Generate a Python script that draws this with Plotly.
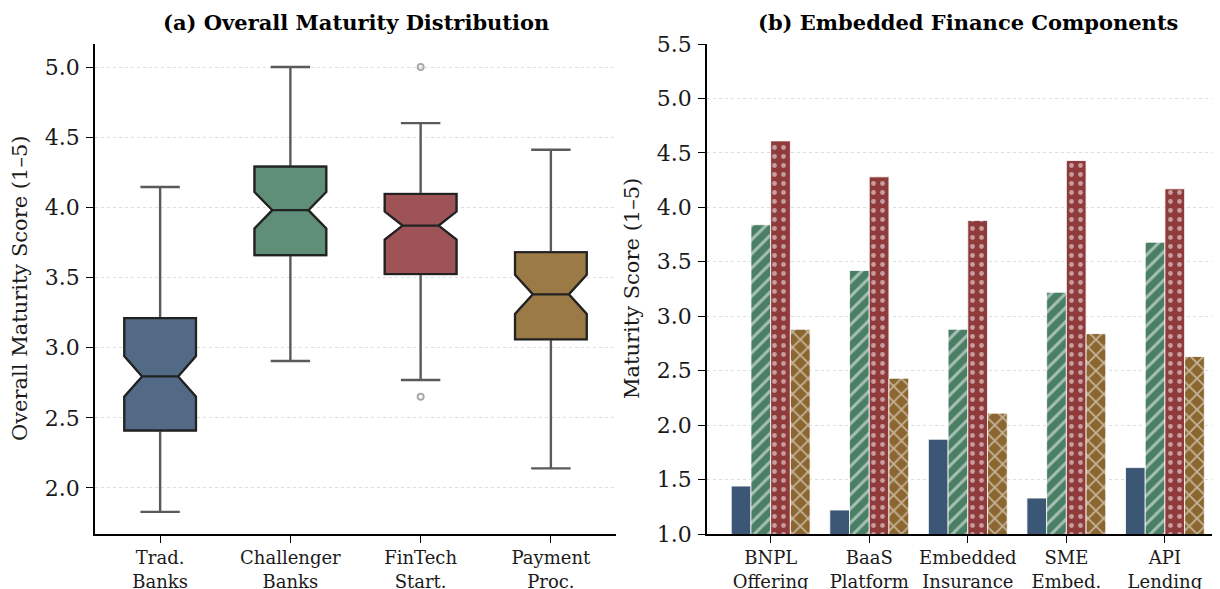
import plotly.graph_objects as go

# ---------------- data ----------------
box_categories = ["Trad.<br>Banks", "Challenger<br>Banks", "FinTech<br>Start.", "Payment<br>Proc."]
box_q1 = [2.41, 3.66, 3.525, 3.06]
box_median = [2.795, 3.98, 3.87, 3.38]
box_q3 = [3.21, 4.29, 4.095, 3.68]
box_lower = [1.83, 2.905, 2.77, 2.14]
box_upper = [4.145, 5.0, 4.60, 4.41]
box_notchspan = [0.145, 0.13, 0.10, 0.14]
outlier_category = ["FinTech<br>Start.", "FinTech<br>Start."]
outlier_values = [5.0, 2.65]

bar_categories = ["BNPL<br>Offering", "BaaS<br>Platform", "Embedded<br>Insurance", "SME<br>Embed.", "API<br>Lending"]
bar_series_names = ["Trad. Banks", "Challenger Banks", "FinTech Start.", "Payment Proc."]
bar_trad = [1.44, 1.22, 1.87, 1.33, 1.61]
bar_challenger = [3.84, 3.42, 2.88, 3.22, 3.68]
bar_fintech = [4.61, 4.28, 3.88, 4.43, 4.17]
bar_payment = [2.88, 2.43, 2.11, 2.84, 2.63]

left_ticks = [2.0, 2.5, 3.0, 3.5, 4.0, 4.5, 5.0]
right_ticks = [1.0, 1.5, 2.0, 2.5, 3.0, 3.5, 4.0, 4.5, 5.0, 5.5]

# ---------------- styles ----------------
box_fill = ["#536a87", "#5f8f78", "#9e5456", "#9b7a46"]
bar_fill = ["#3c5776", "#4a7f66", "#8f3b3c", "#8b6630"]
bar_shapes = ["", "/", ".", "x"]
bar_pattern_size = [10, 10, 9, 11]
bar_solidity = [0.2, 0.3, 0.22, 0.3]
SERIF = "DejaVu Serif"

fig = go.Figure()

# Layer 1: whiskers (gray)
for i, cat in enumerate(box_categories):
    fig.add_trace(go.Box(
        x=[cat], q1=[box_q1[i]], median=[box_median[i]], q3=[box_q3[i]],
        lowerfence=[box_lower[i]], upperfence=[box_upper[i]],
        notched=True, notchspan=[box_notchspan[i]], notchwidth=0.25,
        width=0.55, whiskerwidth=0.55, boxpoints=False,
        fillcolor=box_fill[i], line=dict(color="#5a5a5a", width=2.4),
        xaxis="x", yaxis="y", showlegend=False, hoverinfo="skip"))
# Layer 2: box body with dark outline
for i, cat in enumerate(box_categories):
    fig.add_trace(go.Box(
        x=[cat], q1=[box_q1[i]], median=[box_median[i]], q3=[box_q3[i]],
        lowerfence=[box_q1[i]], upperfence=[box_q3[i]],
        notched=True, notchspan=[box_notchspan[i]], notchwidth=0.25,
        width=0.55, whiskerwidth=0, boxpoints=False,
        fillcolor=box_fill[i], line=dict(color="#222222", width=2.2),
        xaxis="x", yaxis="y", showlegend=False))

fig.add_trace(go.Scatter(
    x=outlier_category, y=outlier_values, mode="markers",
    marker=dict(symbol="circle-open", size=6, color="#aaaaaa", line=dict(width=2)),
    xaxis="x", yaxis="y", showlegend=False))

bar_values = [bar_trad, bar_challenger, bar_fintech, bar_payment]
for j, vals in enumerate(bar_values):
    fig.add_trace(go.Bar(
        x=bar_categories, y=vals, name=bar_series_names[j],
        marker=dict(color=bar_fill[j], line=dict(color="white", width=0.8),
                    pattern=dict(shape=bar_shapes[j], fgcolor="white", bgcolor=bar_fill[j],
                                 size=bar_pattern_size[j], solidity=bar_solidity[j],
                                 fillmode="overlay")),
        xaxis="x2", yaxis="y2", showlegend=False))

axis_common = dict(
    showline=True, linecolor="black", linewidth=1.5, mirror=False,
    ticks="outside", ticklen=7, tickwidth=1.3, tickcolor="black",
    zeroline=False,
)

W, H = 1220, 589
ML, MT, MB = 87, 36, 63
PW = W - ML

fig.update_layout(
    width=W, height=H,
    margin=dict(l=ML, r=0, t=MT, b=MB),
    paper_bgcolor="white", plot_bgcolor="white",
    barmode="group", bargap=0.2, bargroupgap=0,
    font=dict(family=SERIF, color="#1a1a1a"),
    xaxis=dict(domain=[0, 521 / PW], type="category", range=[-0.5, 3.5],
               tickfont=dict(size=18, family=SERIF), ticklabelstandoff=0,
               showgrid=False, **axis_common),
    yaxis=dict(range=[1.672, 5.164], tickvals=left_ticks, ticktext=[f"{v:.1f}" for v in left_ticks],
               tickfont=dict(size=22, family=SERIF), ticklabelstandoff=2,
               showgrid=True, gridcolor="#dddddd", griddash="dot", gridwidth=1, **axis_common),
    xaxis2=dict(domain=[612 / PW, 1.0], type="category", range=[-0.646, 4.64], anchor="y2",
                tickfont=dict(size=18, family=SERIF), ticklabelstandoff=0,
                showgrid=False, **axis_common),
    yaxis2=dict(range=[1.0, 5.5], tickvals=right_ticks, ticktext=[f"{v:.1f}" for v in right_ticks],
                anchor="x2", tickfont=dict(size=22, family=SERIF), ticklabelstandoff=2,
                showgrid=True, gridcolor="#dddddd", griddash="dot", gridwidth=1, **axis_common),
    annotations=[
        dict(text="<b>(a) Overall Maturity Distribution</b>", xref="x domain", yref="paper",
             x=0.5, y=1, yshift=22, xanchor="center", yanchor="middle", showarrow=False,
             font=dict(size=21, family=SERIF, color="black")),
        dict(text="<b>(b) Embedded Finance Components</b>", xref="x2", yref="paper",
             x=2, y=1, yshift=22, xanchor="center", yanchor="middle", showarrow=False,
             font=dict(size=21, family=SERIF, color="black")),
        dict(text="Overall Maturity Score (1–5)", xref="paper", yref="paper",
             x=-ML / PW, xshift=12, y=0.5, xanchor="center", yanchor="middle", textangle=-90,
             showarrow=False, font=dict(size=21, family=SERIF, color="#1a1a1a")),
        dict(text="Maturity Score (1–5)", xref="paper", yref="paper",
             x=(624 - ML) / PW, y=0.5, xanchor="center", yanchor="middle", textangle=-90,
             showarrow=False, font=dict(size=21, family=SERIF, color="#1a1a1a")),
    ],
)

fig.write_html("out.html")
